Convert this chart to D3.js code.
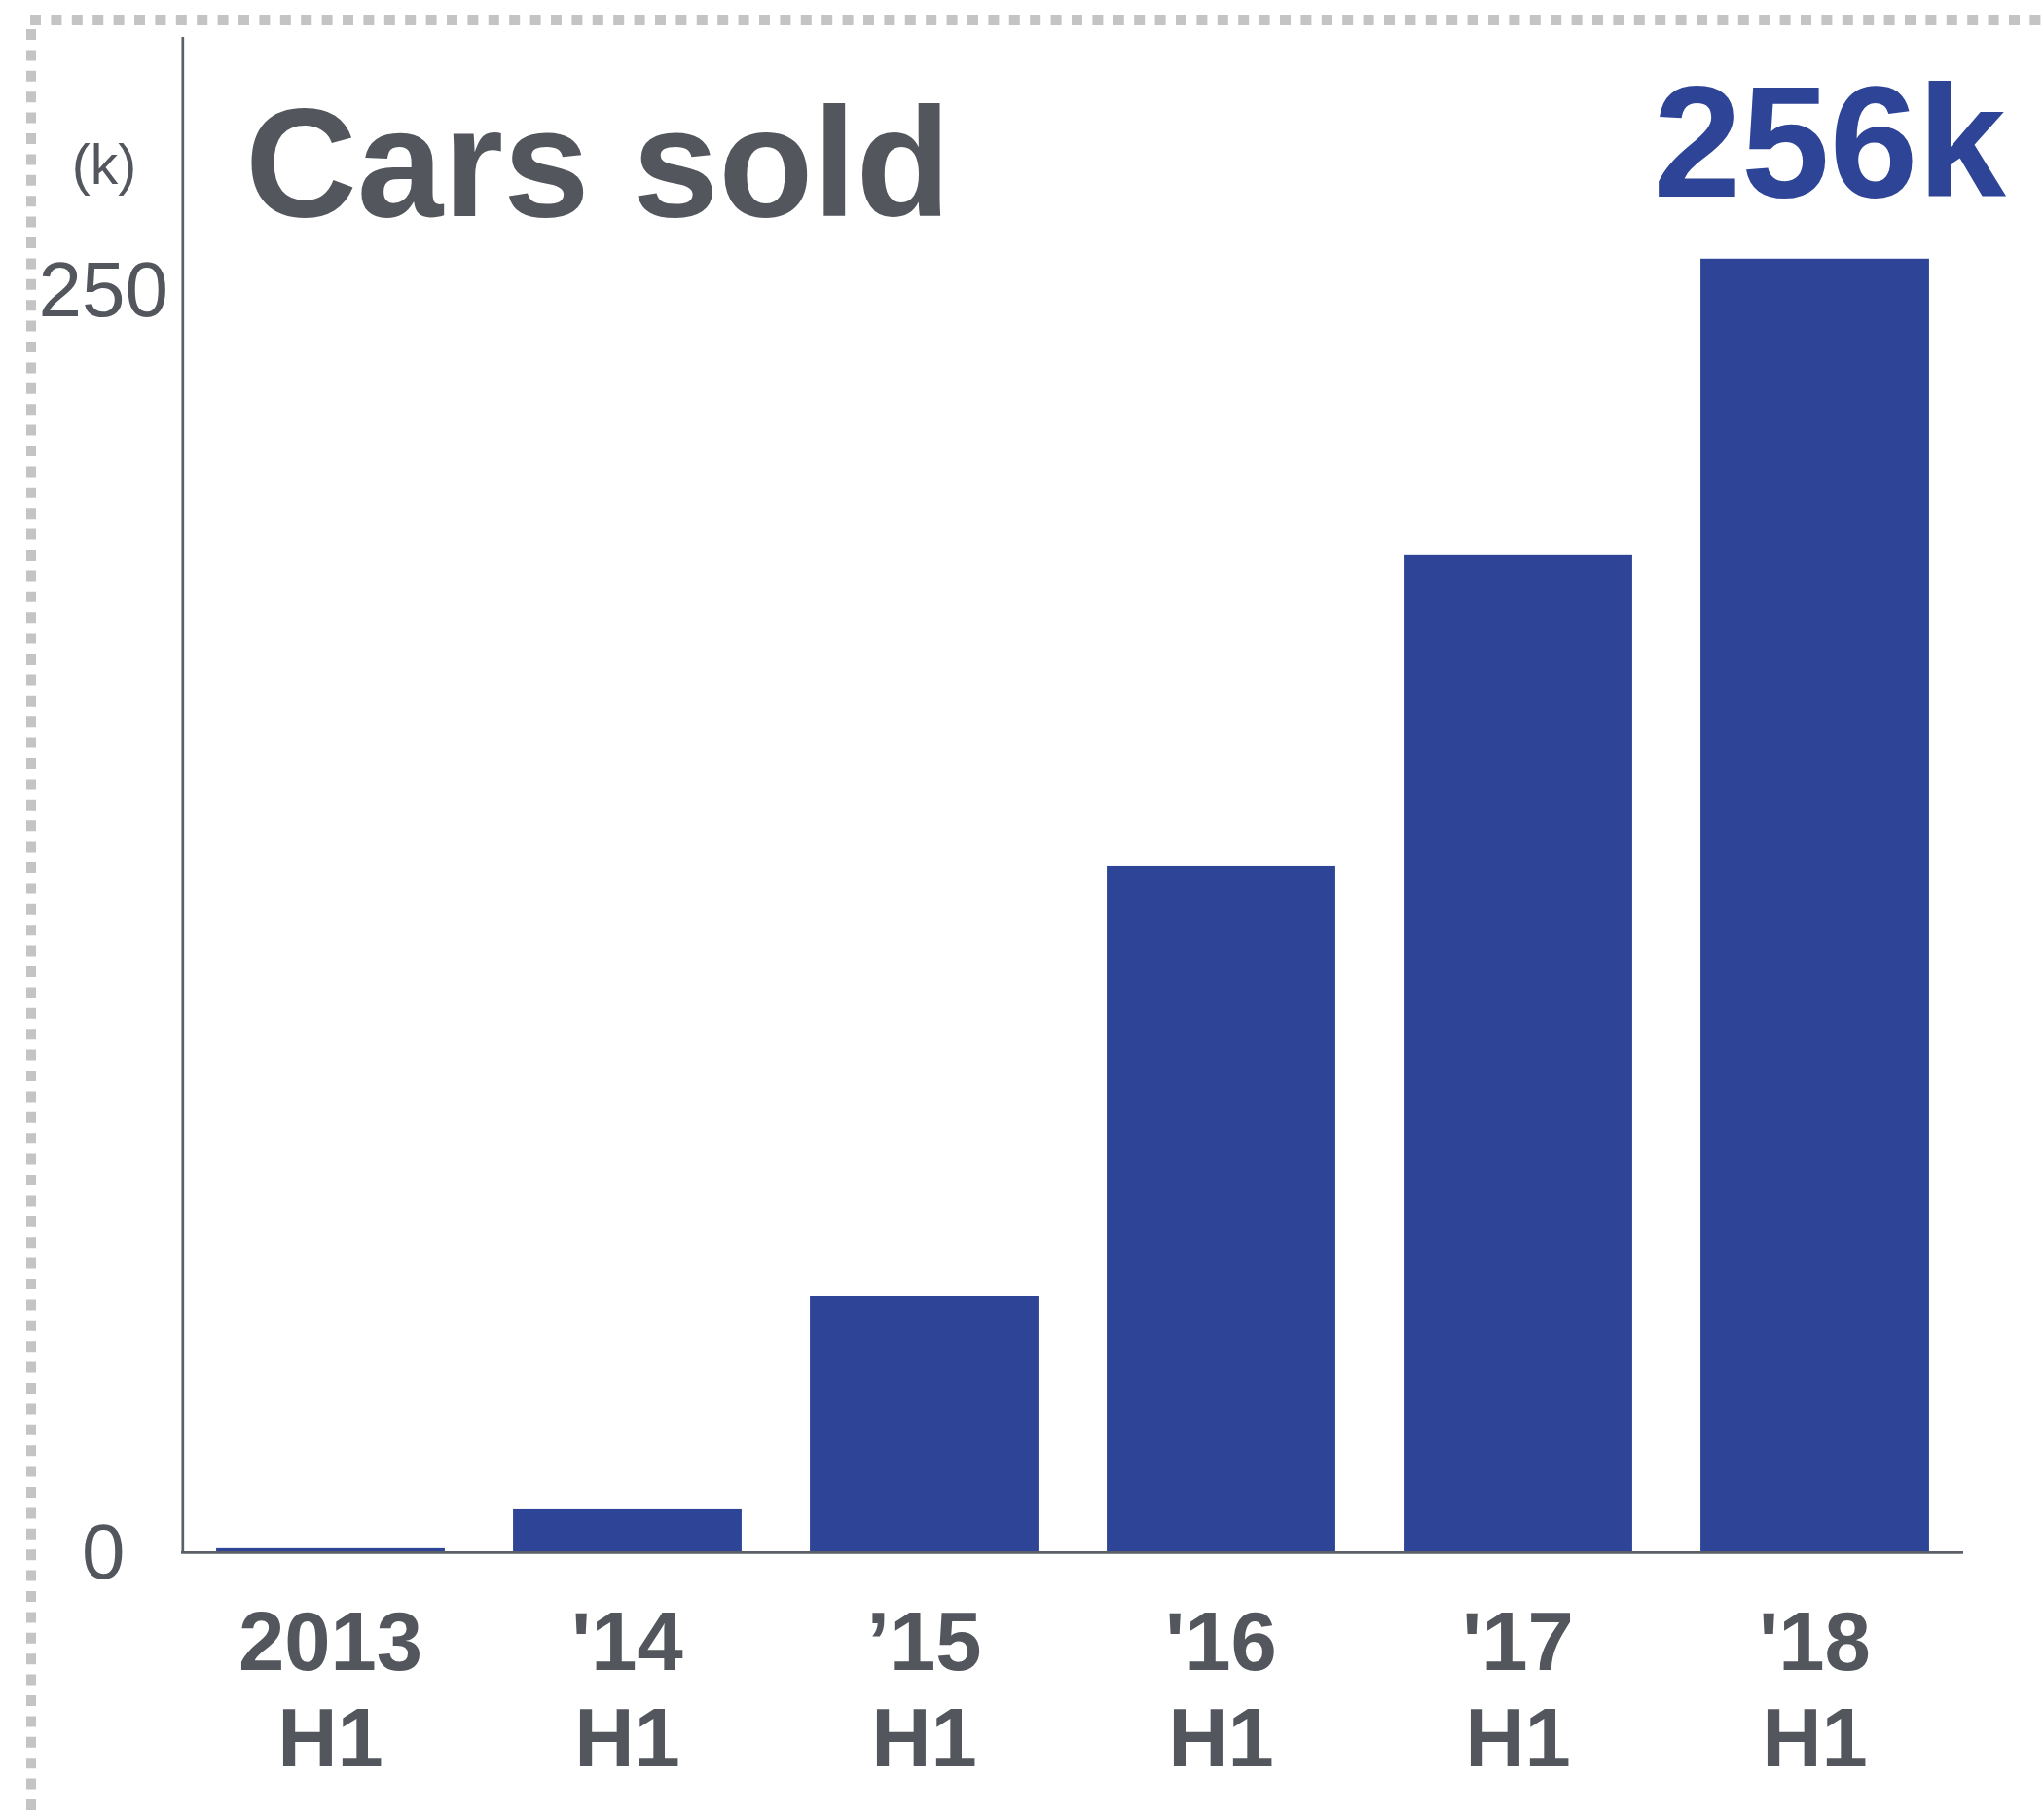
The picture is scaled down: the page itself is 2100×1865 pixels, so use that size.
<!DOCTYPE html>
<html>
<head>
<meta charset="utf-8">
<script src="https://cdn.jsdelivr.net/npm/d3@7"></script>
<style>
  body { margin: 0; background: #fff; }
  svg { display: block; }
</style>
</head>
<body>
<svg></svg>
<script>
// The data
const periods = ["2013", "'14", "\u201915", "'16", "'17", "'18"];
const halves = ["H1", "H1", "H1", "H1", "H1", "H1"];
const carsSold = [0.6, 8.3, 50.5, 135.7, 197.4, 256];
const yTicks = [0, 250];
const title = "Cars sold";
const unitLabel = "(k)";
const headline = "256k";

// The svg
let width = 2100;
let height = 1865;
const svg = d3.select("svg").attr("width", width).attr("height", height);

const barColor = "#2e4497";
const textColor = "#53575d";
const axisColor = "#5b6068";
const font = "'Liberation Sans', Arial, sans-serif";

// dotted frame, only top and left are visible
svg.append("line")
    .attr("x1", 31).attr("y1", 20.5)
    .attr("x2", 2100).attr("y2", 20.5)
    .style("stroke", "#c4c4c4")
    .style("stroke-width", 11)
    .style("stroke-dasharray", "11,10.4");
svg.append("line")
    .attr("x1", 32).attr("y1", 30)
    .attr("x2", 32).attr("y2", 1865)
    .style("stroke", "#c4c4c4")
    .style("stroke-width", 10)
    .style("stroke-dasharray", "11,10.4");

// Scales
let x = d3.scaleBand()
    .domain(periods)
    .range([187, 2017])
    .paddingInner(0.23)
    .paddingOuter(0.115);

let y = d3.scaleLinear()
    .domain([0, 300])
    .range([1594, 37.5]);

// Bars
svg.selectAll("rect.bar")
    .data(carsSold)
    .enter()
    .append("rect")
    .attr("class", "bar")
    .attr("x", function (d, i) { return x(periods[i]); })
    .attr("y", function (d) { return y(d); })
    .attr("width", x.bandwidth())
    .attr("height", function (d) { return y(0) - y(d); })
    .style("fill", barColor);

// Y axis: plain line, tick labels sit left of it
let yAxis = d3.axisLeft(y).tickValues(yTicks).tickSize(0).tickPadding(0);
let yg = svg.append("g")
    .attr("transform", "translate(187.3,0)")
    .call(yAxis);
yg.select(".domain").style("stroke", axisColor).style("stroke-width", 2.7);
yg.selectAll(".tick text")
    .attr("x", -81)
    .attr("dy", "0.34em")
    .attr("text-anchor", "middle")
    .style("font-family", font)
    .style("font-size", "80px")
    .style("fill", textColor);

// X axis baseline
let xAxis = d3.axisBottom(x).tickSize(0).tickFormat("");
let xg = svg.append("g")
    .attr("transform", "translate(0,1595.3)")
    .call(xAxis);
xg.select(".domain")
    .attr("d", "M186,0H2017")
    .style("stroke", axisColor)
    .style("stroke-width", 2.7);

// two line category labels
let labels = svg.selectAll("text.xlabel")
    .data(periods)
    .enter()
    .append("text")
    .attr("class", "xlabel")
    .attr("text-anchor", "middle")
    .style("font-family", font)
    .style("font-weight", "bold")
    .style("font-size", "85px")
    .style("fill", textColor);
labels.append("tspan")
    .attr("x", function (d) { return x(d) + x.bandwidth() / 2; })
    .attr("y", 1716)
    .text(function (d) { return d; });
labels.append("tspan")
    .attr("x", function (d) { return x(d) + x.bandwidth() / 2; })
    .attr("y", 1815)
    .text(function (d, i) { return halves[i]; });

// unit
svg.append("text")
    .attr("x", 107)
    .attr("y", 189)
    .attr("text-anchor", "middle")
    .style("font-family", font)
    .style("font-size", "57px")
    .style("fill", textColor)
    .text(unitLabel);

// Title and headline number
svg.append("text")
    .attr("x", 252)
    .attr("y", 222)
    .style("font-family", font)
    .style("font-weight", "bold")
    .style("font-size", "159px")
    .style("fill", textColor)
    .text(title);

svg.append("text")
    .attr("x", 2061)
    .attr("y", 202)
    .attr("text-anchor", "end")
    .style("font-family", font)
    .style("font-weight", "bold")
    .style("font-size", "163px")
    .style("fill", barColor)
    .text(headline);
</script>
</body>
</html>
